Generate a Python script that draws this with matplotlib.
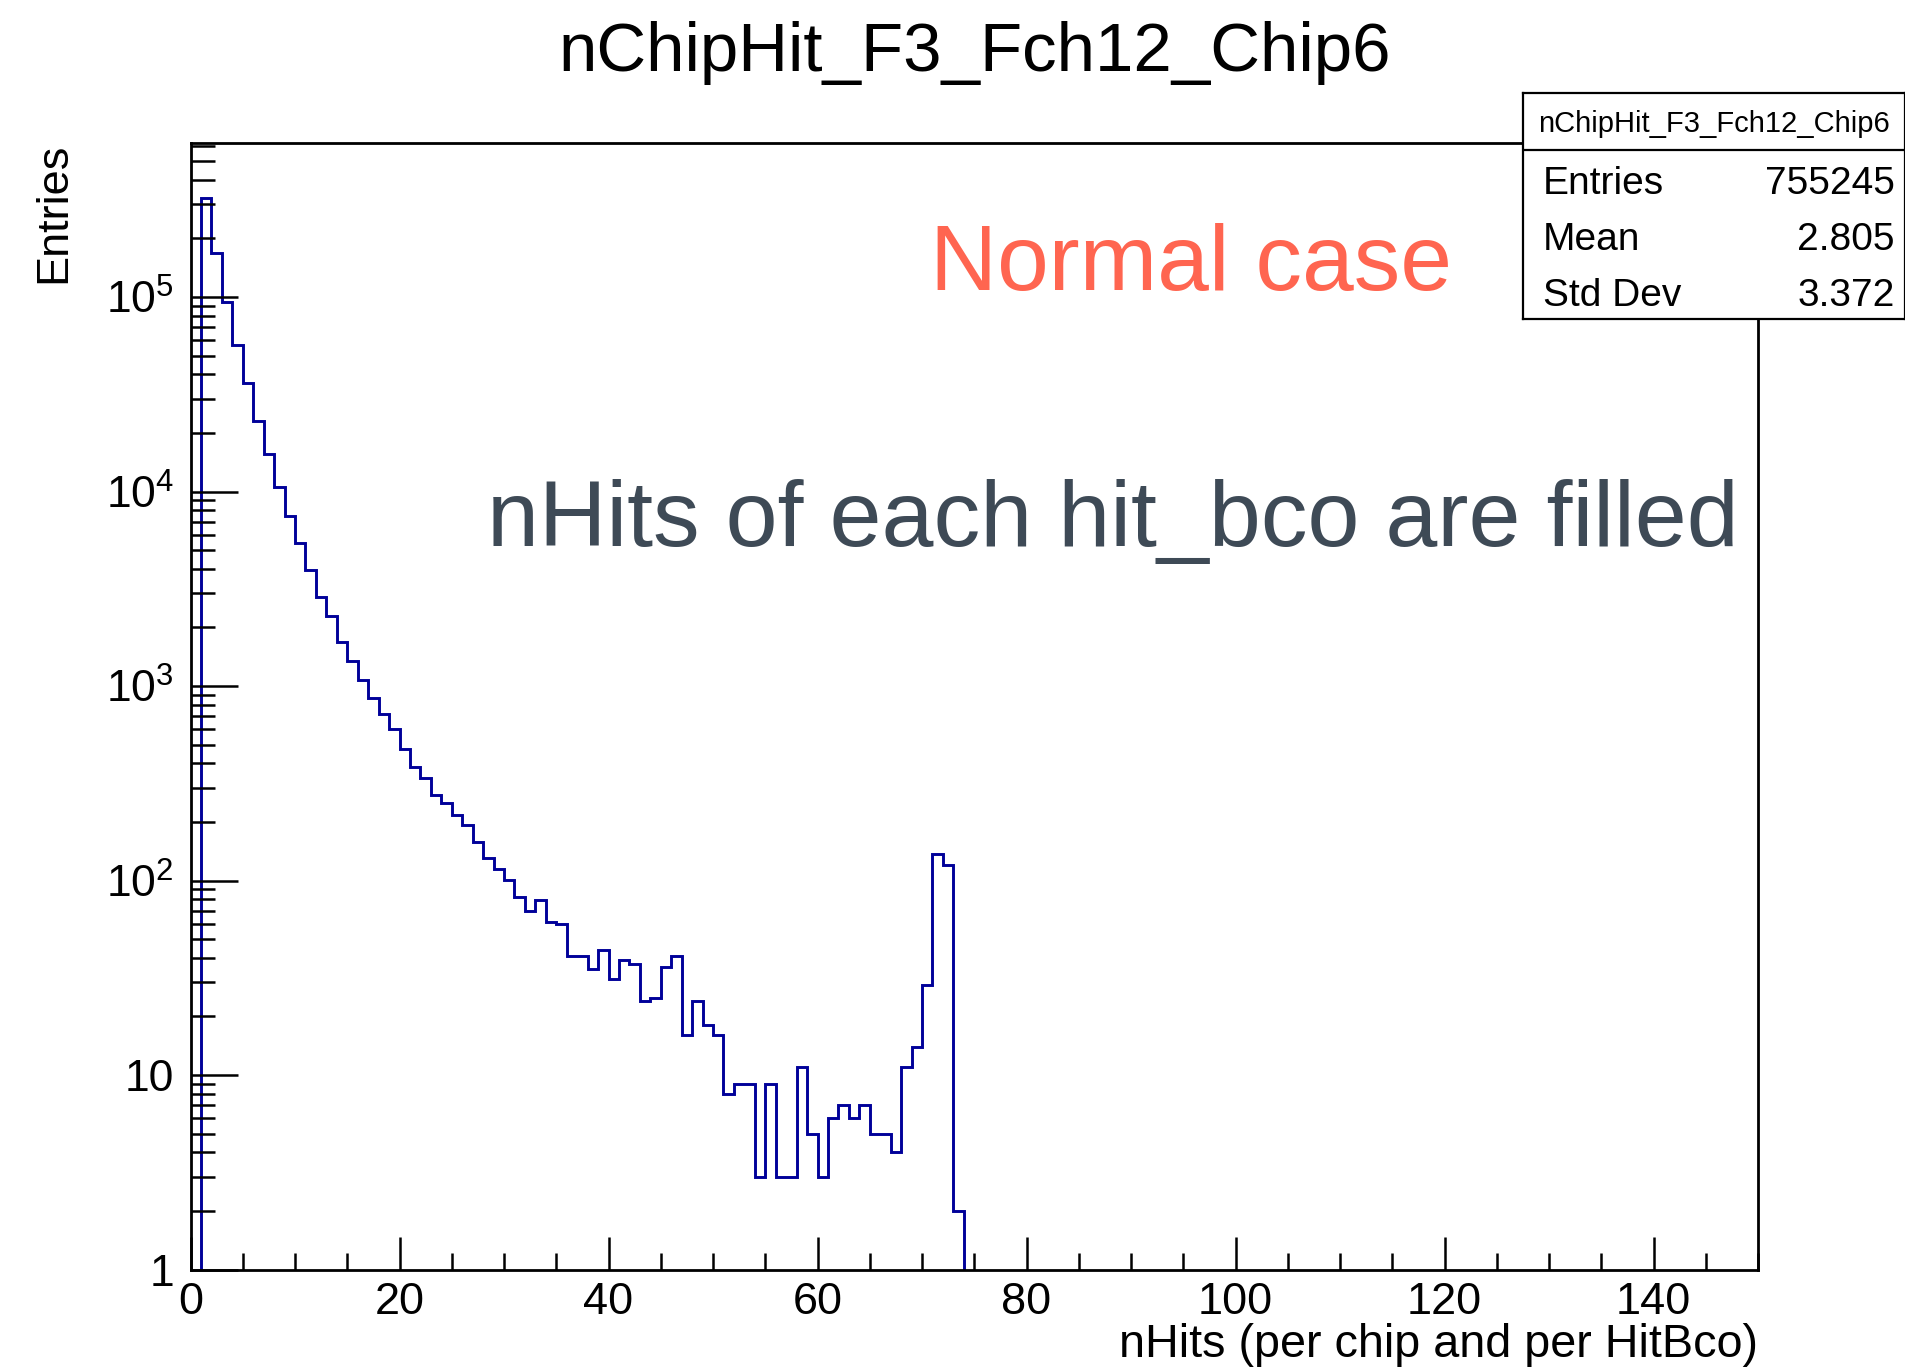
import numpy as np
import matplotlib
matplotlib.use("Agg")
import matplotlib.pyplot as plt
from matplotlib.ticker import FixedLocator, FuncFormatter, MultipleLocator

plt.rcParams['font.family'] = ['Liberation Sans', 'DejaVu Sans']
plt.rcParams['mathtext.fontset'] = 'custom'
plt.rcParams['mathtext.rm'] = 'Liberation Sans'
plt.rcParams['mathtext.it'] = 'Liberation Sans'
plt.rcParams['mathtext.bf'] = 'Liberation Sans'

# ---- data (bin contents, unit-width bins starting at 0) ----
title = "nChipHit_F3_Fch12_Chip6"
x_label = "nHits (per chip and per HitBco)"
y_label = "Entries"
n_bins = 150
x_min, x_max = 0, 150
counts_head = [
    0, 324000, 168000, 94000, 56600, 36000, 23100, 15600, 10500, 7500,
    5460, 3965, 2885, 2290, 1690, 1344, 1074, 865, 718, 599,
    474, 385, 335, 275, 250, 217, 193, 158, 130, 115,
    101, 82, 70, 79, 61, 60, 41, 41, 35, 44,
    31, 39, 37, 24, 25, 36, 41, 16, 24, 18,
    16, 8, 9, 9, 3, 9, 3, 3, 11, 5,
    3, 6, 7, 6, 7, 5, 5, 4, 11, 14,
    29, 137, 120, 2,
]
stats_labels = ["Entries", "Mean", "Std Dev"]
stats_values = ["755245", "2.805", "3.372"]
note1 = "Normal case"
note2 = "nHits of each hit_bco are filled"

counts = np.zeros(n_bins)
counts[:len(counts_head)] = counts_head
edges = np.arange(x_min, x_max + 1, 1)

W, H = 1906, 1368
fig = plt.figure(figsize=(W / 100, H / 100), dpi=100)

ax_l, ax_r, ax_t, ax_b = 190.5, 1758, 143.3, 1269.5
ax = fig.add_axes([ax_l / W, 1 - ax_b / H, (ax_r - ax_l) / W, (ax_b - ax_t) / H])

ymin = 1.0
ymax = 10 ** ((ax_b - ax_t) / 194.5)
plot_vals = np.where(counts > 0, counts, ymin * 1e-3)
ax.stairs(plot_vals, edges, color="#000099", linewidth=2.1, baseline=None)

ax.set_yscale('log')
ax.set_xlim(x_min, x_max)
ax.set_ylim(ymin, ymax)

for s in ax.spines.values():
    s.set_linewidth(2.0)

ax.xaxis.set_major_locator(MultipleLocator(20))
ax.xaxis.set_minor_locator(MultipleLocator(5))
majors_y = [1, 10, 100, 1e3, 1e4, 1e5]
minors_y = [m * 10 ** d for d in range(0, 6) for m in range(2, 10)]
ax.yaxis.set_major_locator(FixedLocator(majors_y))
ax.yaxis.set_minor_locator(FixedLocator(minors_y))


def yfmt(v, pos):
    e = int(round(np.log10(v)))
    if e == 0:
        return "1"
    if e == 1:
        return "10"
    return r"$\mathregular{10^{%d}}$" % e


ax.yaxis.set_major_formatter(FuncFormatter(yfmt))
ax.yaxis.set_minor_formatter(FuncFormatter(lambda v, p: ""))

ax.tick_params(axis='x', which='major', direction='in', length=24, width=1.8,
               labelsize=32.5, pad=9, top=False)
ax.tick_params(axis='x', which='minor', direction='in', length=12, width=1.8, top=False)
ax.tick_params(axis='y', which='major', direction='in', length=34, width=1.8,
               labelsize=32, pad=12, right=False)
ax.tick_params(axis='y', which='minor', direction='in', length=17, width=1.8, right=False)

# titles
fig.text(975 / W, 1 - 71 / H, title, ha='center', va='baseline', fontsize=49.7)
fig.text(1758 / W, 1 - 1357 / H, x_label, ha='right', va='baseline', fontsize=33.7)
fig.text(33 / W, 1 - 143 / H, y_label, ha='left', va='top', rotation=90, fontsize=32.5)

# annotations
fig.text(930 / W, 1 - 290 / H, note1, ha='left', va='baseline', fontsize=67,
         color="#FF6550")
fig.text(487 / W, 1 - 546 / H, note2, ha='left', va='baseline', fontsize=67.2,
         color="#3E4A56")

# stats box
bx_l, bx_r, bx_t, bx_b = 1523, 1905, 93, 319
sax = fig.add_axes([bx_l / W, 1 - bx_b / H, (bx_r - bx_l) / W, (bx_b - bx_t) / H])
sax.set_xlim(bx_l, bx_r)
sax.set_ylim(bx_b, bx_t)
sax.set_xticks([])
sax.set_yticks([])
sax.set_facecolor('white')
for s in sax.spines.values():
    s.set_linewidth(1.6)
sax.axhline(150, color='black', linewidth=1.6)
sax.text((bx_l + bx_r) / 2, 132, title, ha='center', va='baseline', fontsize=21)
row_base = [194, 250, 306]
for lab, val, yb in zip(stats_labels, stats_values, row_base):
    sax.text(1542.7, yb, lab, ha='left', va='baseline', fontsize=28)
    sax.text(1895, yb, val, ha='right', va='baseline', fontsize=28)

fig.savefig("out.png", dpi=100)
